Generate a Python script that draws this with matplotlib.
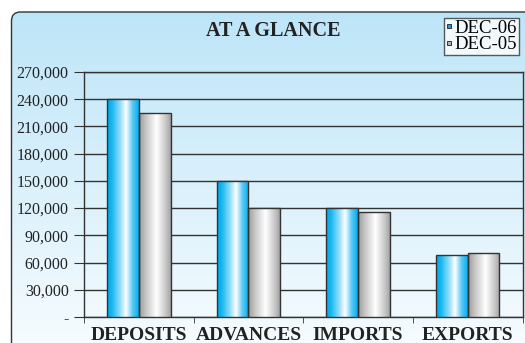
import numpy as np
import matplotlib.pyplot as plt
from matplotlib.patches import FancyBboxPatch
from matplotlib.lines import Line2D
from matplotlib.colors import LinearSegmentedColormap
from matplotlib.ticker import FuncFormatter

# data
categories = ["DEPOSITS", "ADVANCES", "IMPORTS", "EXPORTS"]
dec06 = [240000, 150000, 120000, 68000]
dec05 = [225000, 120000, 116000, 70000]
yticks = [0, 30000, 60000, 90000, 120000, 150000, 180000, 210000, 240000, 270000]

serif = "Liberation Serif"
fig = plt.figure(figsize=(5.25, 3.43), dpi=100)

# background panel with soft blue gradient
bg = fig.add_axes([0, 0, 1, 1])
bg.set_xlim(0, 525)
bg.set_ylim(0, 343)
bg.axis("off")
grad = np.linspace(0, 1, 256).reshape(-1, 1)
bg_cmap = LinearSegmentedColormap.from_list("bg", ["#bde5f8", "#f7fcff"])
box = FancyBboxPatch((11.5, -8), 530, 339, boxstyle="round,pad=0,rounding_size=9",
                     facecolor="none", edgecolor="#333333", linewidth=1.0)
bg.add_patch(box)
im = bg.imshow(grad, cmap=bg_cmap, extent=[11.5, 541, -8, 331], aspect="auto", origin="upper")
im.set_clip_path(box)

ax = fig.add_axes([84 / 525, 26 / 343, 438.5 / 525, 245 / 343])
ax.patch.set_alpha(0)

x = np.arange(len(categories))
w = 0.29
b1 = ax.bar(x - w / 2, dec06, w, color="#00b0f0", edgecolor="#333333", linewidth=1.0, zorder=3)
b2 = ax.bar(x + w / 2, dec05, w, color="#b0b0b0", edgecolor="#333333", linewidth=1.0, zorder=3)

# cylinder like shading inside each bar
blue_cmap = LinearSegmentedColormap.from_list(
    "b", [(0, "#00a6e6"), (0.15, "#14b8f2"), (0.45, "#a8e4fb"), (0.6, "#ffffff"), (0.8, "#5ccaf5"), (1, "#00aeef")])
gray_cmap = LinearSegmentedColormap.from_list(
    "g", [(0, "#9a9a9a"), (0.2, "#c4c4c4"), (0.55, "#ffffff"), (0.8, "#d0d0d0"), (1, "#a4a4a4")])
hgrad = np.linspace(0, 1, 128).reshape(1, -1)
for bars, cm in [(b1, blue_cmap), (b2, gray_cmap)]:
    for r in bars:
        x0, y0 = r.get_x(), r.get_y()
        g = ax.imshow(hgrad, cmap=cm, extent=[x0, x0 + r.get_width(), y0, y0 + r.get_height()],
                      aspect="auto", zorder=3.5)
        g.set_clip_path(r)
    for r in bars:
        r.set_facecolor("none")
        r.set_zorder(4)

ax.set_xlim(-0.5, len(categories) - 0.5)
ax.set_ylim(0, 270000)
ax.set_yticks(yticks)
ax.yaxis.set_major_formatter(FuncFormatter(lambda v, p: "-" if v == 0 else f"{int(v):,}"))
ax.grid(axis="y", color="#333333", linewidth=1.0, zorder=1)
ax.set_axisbelow(True)
for s in ax.spines.values():
    s.set_color("#333333")
    s.set_linewidth(1.0)

ax.set_xticks(x)
ax.set_xticklabels(categories, fontfamily=serif, fontweight="bold", fontsize=14, color="#222222")
ax.tick_params(axis="x", which="major", length=0, pad=7)
ax.set_xticks(np.arange(len(categories) + 1) - 0.5, minor=True)
ax.tick_params(axis="x", which="minor", length=4, color="#333333", direction="out")
ax.tick_params(axis="y", length=7, color="#333333", pad=4)
for t in ax.get_yticklabels():
    t.set_fontfamily(serif)
    t.set_fontsize(11.5)
    t.set_color("#222222")

fig.text(273 / 525, 1 - 30.5 / 343, "AT A GLANCE", ha="center", va="center",
         fontfamily=serif, fontweight="bold", fontsize=14.5, color="#222222")

# legend with small square keys
keys = [Line2D([], [], linestyle="none", marker="s", markersize=3.5, markerfacecolor="#1e9be0",
               markeredgecolor="#333333", markeredgewidth=0.7),
        Line2D([], [], linestyle="none", marker="s", markersize=3.5, markerfacecolor="#b0b0b0",
               markeredgecolor="#333333", markeredgewidth=0.7)]
leg = fig.legend(keys, ["DEC-06", "DEC-05"], loc="upper right",
                 bbox_to_anchor=(519 / 525, 1 - 18 / 343), frameon=True, fancybox=False,
                 prop={"family": serif, "size": 13.5}, handlelength=0.3,
                 handletextpad=0.15, borderpad=0.1, labelspacing=-0.05, borderaxespad=0)
leg.get_frame().set_edgecolor("#333333")
leg.get_frame().set_linewidth(1.0)
leg.get_frame().set_facecolor("white")

fig.savefig("out.png", dpi=100)
